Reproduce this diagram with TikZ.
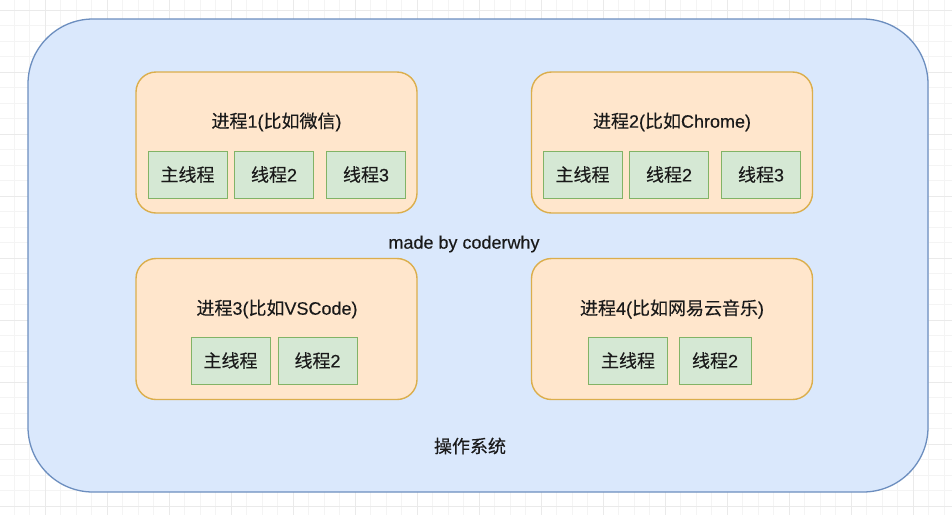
\documentclass[tikz,border=0pt]{standalone}
\usepackage{fontspec}
\setmainfont[FakeBold=0.3]{Liberation Sans}
\newfontfamily\cjk[FakeBold=0.3]{Noto Sans CJK SC}
\newcommand{\zh}[1]{{\cjk #1}}
\definecolor{osfill}{HTML}{DAE8FC}
\definecolor{osline}{HTML}{6C8EBF}
\definecolor{prfill}{HTML}{FFE6CC}
\definecolor{prline}{HTML}{DBAE4C}
\definecolor{thfill}{HTML}{D5E8D4}
\definecolor{thline}{HTML}{82B366}
\definecolor{txt}{HTML}{1A1A1A}
\definecolor{gminor}{HTML}{F4F4F4}
\definecolor{gmajor}{HTML}{EAEAEA}
\tikzset{
  osbox/.style={draw=osline, fill=osfill, line width=1.3pt, rounded corners=65pt, minimum width=900pt, minimum height=473pt, inner sep=0pt},
  prbox/.style={draw=prline, fill=prfill, line width=1.4pt, rounded corners=20pt, minimum width=281pt, minimum height=141pt, inner sep=0pt},
  thbox/.style={draw=thline, fill=thfill, line width=1pt, minimum width=79pt, minimum height=47pt, inner sep=0pt, text=txt, font=\fontsize{18}{21}\selectfont},
  lbl/.style={text=txt, inner sep=0pt, font=\fontsize{18}{21}\selectfont}
}
\begin{document}
\begin{tikzpicture}[x=1pt,y=-1pt]
\useasboundingbox (0,0) rectangle (952,515);
\fill[white] (0,0) rectangle (952,515);
% background grid
\foreach \k in {0,...,62} {
  \draw[gminor, line width=0.7pt] ({-1.5+15.5*\k},0) -- ({-1.5+15.5*\k},515);
}
\foreach \k in {0,...,34} {
  \draw[gminor, line width=0.7pt] (0,{-5.5+15.5*\k}) -- (952,{-5.5+15.5*\k});
}
\foreach \k in {-1,...,15} {
  \draw[gmajor, line width=0.8pt] ({45+62*\k},0) -- ({45+62*\k},515);
}
\foreach \k in {0,...,8} {
  \draw[gmajor, line width=0.8pt] (0,{10+62*\k}) -- (952,{10+62*\k});
}
% operating system
\node[osbox] (os) at (478,255.5) {};
\node[lbl] (ostitle) at (470,446) {\zh{操作系统}};
\node[lbl] (made) at (464,244) {made by coderwhy};
% process 1
\node[prbox] (p1) at (276.5,142.5) {};
\node[lbl] (p1t) at (276.5,122) {\zh{进程}1(\zh{比如微信})};
\node[thbox] (p1a) at (187.5,174.5) {\zh{主线程}};
\node[thbox] (p1b) at (274,174.5) {\zh{线程}2};
\node[thbox] (p1c) at (366,174.5) {\zh{线程}3};
% process 2
\node[prbox] (p2) at (672,142.5) {};
\node[lbl] (p2t) at (672,122) {\zh{进程}2(\zh{比如}Chrome)};
\node[thbox] (p2a) at (582.5,174.5) {\zh{主线程}};
\node[thbox] (p2b) at (669,174.5) {\zh{线程}2};
\node[thbox] (p2c) at (761,174.5) {\zh{线程}3};
% process 3
\node[prbox] (p3) at (276.5,329) {};
\node[lbl] (p3t) at (277,309) {\zh{进程}3(\zh{比如}VSCode)};
\node[thbox] (p3a) at (230.5,360.5) {\zh{主线程}};
\node[thbox] (p3b) at (317.5,360.5) {\zh{线程}2};
% process 4
\node[prbox] (p4) at (672,329) {};
\node[lbl] (p4t) at (672,309) {\zh{进程}4(\zh{比如网易云音乐})};
\node[thbox] (p4a) at (628,360.5) {\zh{主线程}};
\node[thbox, minimum width=72pt] (p4b) at (715,360.5) {\zh{线程}2};
\end{tikzpicture}
\end{document}
